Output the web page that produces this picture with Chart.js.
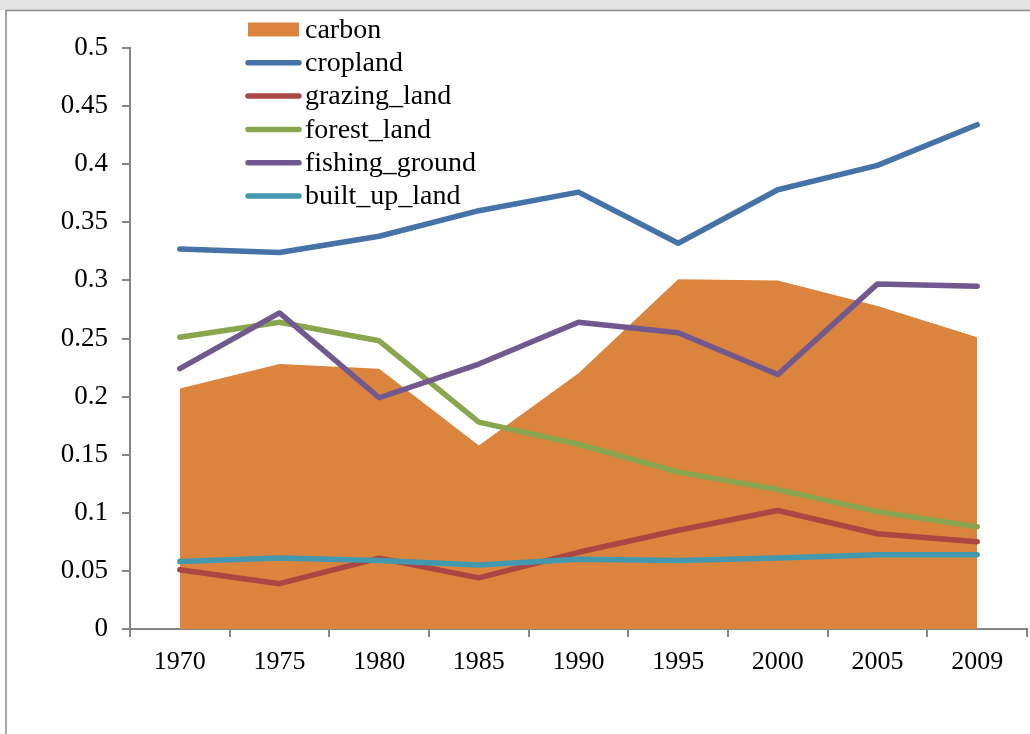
<!DOCTYPE html>
<html>
<head>
<meta charset="utf-8">
<script src="https://cdn.jsdelivr.net/npm/chart.js@4"></script>
<style>
  html, body { margin: 0; padding: 0; background: #fff; }
  canvas { display: block; }
</style>
</head>
<body>
<canvas id="chart" width="1030" height="734"></canvas>
<script>
const years = ['1970', '1975', '1980', '1985', '1990', '1995', '2000', '2005', '2009'];
const carbon = [0.207, 0.228, 0.224, 0.158, 0.220, 0.301, 0.300, 0.278, 0.251];
const cropland = [0.327, 0.324, 0.338, 0.360, 0.376, 0.332, 0.378, 0.399, 0.434];
const grazingLand = [0.051, 0.039, 0.061, 0.044, 0.066, 0.085, 0.102, 0.082, 0.075];
const forestLand = [0.251, 0.264, 0.248, 0.178, 0.159, 0.135, 0.120, 0.101, 0.088];
const fishingGround = [0.224, 0.272, 0.199, 0.228, 0.264, 0.255, 0.219, 0.297, 0.295];
const builtUpLand = [0.058, 0.061, 0.059, 0.055, 0.060, 0.059, 0.061, 0.064, 0.064];

const FONT = '"Liberation Serif", "Times New Roman", serif';
const GREY = '#868686';

// page frame: grey strip on top, thin border left and top
const framePlugin = {
    id: 'frame',
    beforeDraw(chart) {
        const ctx = chart.ctx;
        ctx.save();
        ctx.fillStyle = '#e3e3e3';
        ctx.fillRect(0, 0, chart.width, 10);
        ctx.strokeStyle = '#8a8a8a';
        ctx.lineWidth = 1.5;
        ctx.beginPath();
        ctx.moveTo(6, chart.height);
        ctx.lineTo(6, 10.5);
        ctx.lineTo(chart.width, 10.5);
        ctx.stroke();
        ctx.restore();
    }
};

// legend drawn by hand so it can sit inside the plot like the original
const legendPlugin = {
    id: 'sideLegend',
    afterDraw(chart) {
        const ctx = chart.ctx;
        ctx.save();
        ctx.font = '28px ' + FONT;
        ctx.textBaseline = 'middle';
        chart.data.datasets.forEach((ds, i) => {
            const y = 29.5 + i * 33.3;
            if (ds.fill) {
                ctx.fillStyle = ds.backgroundColor;
                ctx.fillRect(248, y - 7, 51, 14);
            } else {
                ctx.strokeStyle = ds.borderColor;
                ctx.lineWidth = 5.5;
                ctx.lineCap = 'round';
                ctx.beginPath();
                ctx.moveTo(248, y);
                ctx.lineTo(299, y);
                ctx.stroke();
            }
            ctx.fillStyle = '#000';
            ctx.fillText(ds.label, 305, y + 1);
        });
        ctx.restore();
    }
};

function lineSet(label, data, color, order) {
    return {
        label, data, order,
        borderColor: color,
        backgroundColor: color,
        borderWidth: 5.5,
        borderJoinStyle: 'round',
        borderCapStyle: 'round',
        pointRadius: 0,
        fill: false,
        tension: 0
    };
}

new Chart(document.getElementById('chart'), {
    type: 'line',
    data: {
        labels: years,
        datasets: [
            {
                label: 'carbon',
                data: carbon,
                order: 10,
                backgroundColor: '#DB843D',
                borderColor: '#DB843D',
                borderWidth: 0,
                pointRadius: 0,
                fill: 'origin'
            },
            lineSet('cropland', cropland, '#4572A7', 5),
            lineSet('grazing_land', grazingLand, '#AA4643', 4),
            lineSet('forest_land', forestLand, '#89A54E', 3),
            lineSet('fishing_ground', fishingGround, '#71588F', 2),
            lineSet('built_up_land', builtUpLand, '#4198AF', 1)
        ]
    },
    options: {
        responsive: false,
        animation: false,
        events: [],
        layout: { padding: { top: 48, right: 3, left: 0, bottom: 0 } },
        plugins: {
            legend: { display: false },
            tooltip: { enabled: false }
        },
        scales: {
            x: {
                offset: true,
                grid: { offset: true, drawOnChartArea: false, drawTicks: true, tickLength: 8, color: GREY, lineWidth: 2 },
                border: { display: true, color: GREY, width: 2 },
                ticks: { color: '#000', font: { family: FONT, size: 26 }, padding: 10, maxRotation: 0 },
                afterFit(scale) { scale.height = 105; }
            },
            y: {
                min: 0,
                max: 0.5,
                ticks: {
                    stepSize: 0.05,
                    color: '#000',
                    font: { family: FONT, size: 27 },
                    padding: 14,
                    callback: v => String(Math.round(v * 100) / 100)
                },
                grid: { drawOnChartArea: false, drawTicks: true, tickLength: 8, color: GREY, lineWidth: 2 },
                border: { display: true, color: GREY, width: 2 },
                afterFit(scale) { scale.width = 130; }
            }
        }
    },
    plugins: [framePlugin, legendPlugin]
});
</script>
</body>
</html>
